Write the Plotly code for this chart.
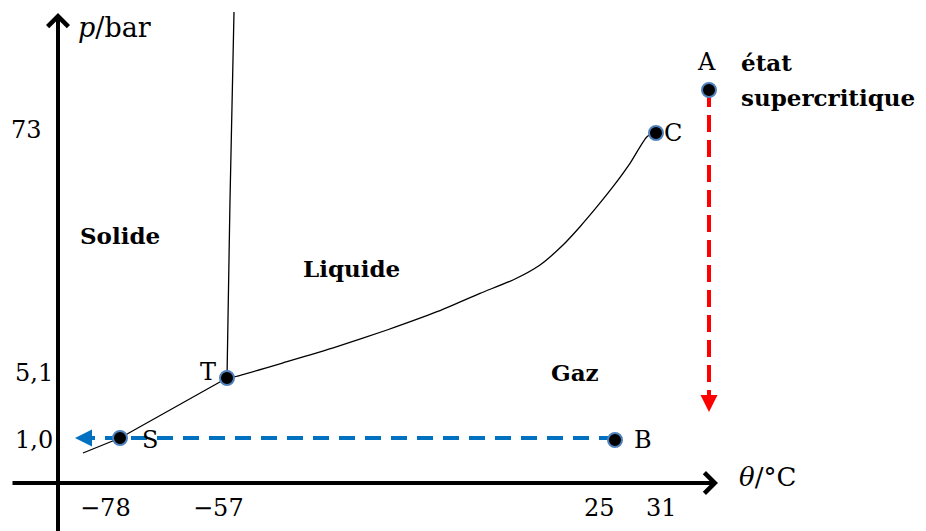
import plotly.graph_objects as go

# Schematic coordinates (screen-like units, y grows downward)
W, H = 926, 531
OFF = 8  # page margin of the html body

# Phase boundary curves (schematic)
sub_x = [83, 120, 227]
sub_y = [453, 438, 378]
fus_x = [227, 230, 234]
fus_y = [378, 200, 12]
vap_x = [227, 235, 287, 337, 387, 437, 480, 513, 540, 563, 580, 597, 613, 630, 647, 656]
vap_y = [378, 376.7, 361.7, 346.7, 330, 311.7, 293.3, 280, 265, 245, 226.7, 206.7, 186.7, 163.3, 136.7, 132.7]

# Labelled points
pt_names = ["S", "T", "C", "B", "A"]
pt_x = [120, 227, 656, 615, 709]
pt_y = [438, 378, 133, 440, 90]
lab_x = [150, 208, 673, 643, 706]
lab_y = [440, 372, 133, 440, 62]

# Transformations
blue_x = [615, 90]
blue_y = [438, 438]
blue_tip = (75, 438)
red_x = [709, 709]
red_y = [90, 398]
red_tip = (709, 412)

# Axes
x_axis_y = 483
y_axis_x = 58
x_axis_span = (11, 718)
y_axis_span = (540, 13)

# Tick labels
xtick_labels = ["−78", "−57", "25", "31"]
xtick_pos = [105, 218, 599, 661]
ytick_labels = ["73", "5,1", "1,0"]
ytick_x = [26, 34, 34]
ytick_pos = [130, 373, 440]

# Region labels
regions = ["Solide", "Liquide", "Gaz"]
reg_x = [120, 351, 575]
reg_y = [235, 268, 372]

FONT = "DejaVu Serif"
BLUE = "#0070C0"
RED = "#FF0000"

fig = go.Figure()
for xs, ys in [(sub_x, sub_y), (fus_x, fus_y)]:
    fig.add_trace(go.Scatter(x=xs, y=ys, mode="lines",
                             line=dict(color="black", width=1.3)))
fig.add_trace(go.Scatter(x=vap_x, y=vap_y, mode="lines",
                         line=dict(color="black", width=1.3, shape="spline", smoothing=0.6)))

fig.add_trace(go.Scatter(x=blue_x, y=blue_y, mode="lines",
                         line=dict(color=BLUE, width=4, dash="16px,10px")))
fig.add_trace(go.Scatter(x=red_x, y=red_y, mode="lines",
                         line=dict(color=RED, width=4, dash="17px,8px")))

fig.add_trace(go.Scatter(x=pt_x, y=pt_y, mode="markers",
                         marker=dict(size=14, color="black",
                                     line=dict(color="#4F81BD", width=2))))

ann = []
# axes arrows
ann.append(dict(x=x_axis_span[1], y=x_axis_y, ax=x_axis_span[0], ay=x_axis_y,
                xref="x", yref="y", axref="x", ayref="y", text="",
                showarrow=True, arrowhead=4, arrowwidth=4, arrowsize=1, arrowcolor="black"))
ann.append(dict(x=y_axis_x, y=y_axis_span[1], ax=y_axis_x, ay=y_axis_span[0],
                xref="x", yref="y", axref="x", ayref="y", text="",
                showarrow=True, arrowhead=4, arrowwidth=4, arrowsize=1, arrowcolor="black"))
# transformation arrowheads
ann.append(dict(x=blue_tip[0], y=blue_tip[1], ax=blue_tip[0] + 17, ay=blue_tip[1],
                xref="x", yref="y", axref="x", ayref="y", text="",
                showarrow=True, arrowhead=2, arrowwidth=4, arrowsize=0.85, arrowcolor=BLUE))
ann.append(dict(x=red_tip[0], y=red_tip[1], ax=red_tip[0], ay=red_tip[1] - 17,
                xref="x", yref="y", axref="x", ayref="y", text="",
                showarrow=True, arrowhead=2, arrowwidth=4, arrowsize=0.85, arrowcolor=RED))

FS = 24
for t, x in zip(xtick_labels, xtick_pos):
    ann.append(dict(x=x, y=508, text=t, showarrow=False, xref="x", yref="y",
                    font=dict(family=FONT, size=FS, color="black")))
for t, x, y in zip(ytick_labels, ytick_x, ytick_pos):
    ann.append(dict(x=x, y=y, text=t, showarrow=False, xref="x", yref="y",
                    font=dict(family=FONT, size=FS, color="black")))
for t, x, y in zip(pt_names, lab_x, lab_y):
    ann.append(dict(x=x, y=y, text=t, showarrow=False, xref="x", yref="y",
                    font=dict(family=FONT, size=FS, color="black")))
for t, x, y in zip(regions, reg_x, reg_y):
    ann.append(dict(x=x, y=y, text="<b>" + t + "</b>", showarrow=False, xref="x", yref="y",
                    font=dict(family=FONT, size=23, color="black")))
ann.append(dict(x=739, y=62, text="<b>état</b>", showarrow=False, xref="x", yref="y",
                xanchor="left", font=dict(family=FONT, size=23, color="black")))
ann.append(dict(x=739, y=97, text="<b>supercritique</b>", showarrow=False, xref="x", yref="y",
                xanchor="left", font=dict(family=FONT, size=23, color="black")))
ann.append(dict(x=76, y=27, text="<i>p</i>/bar", showarrow=False, xref="x", yref="y",
                xanchor="left", font=dict(family=FONT, size=27, color="black")))
ann.append(dict(x=737, y=477, text="<i>θ</i>/°C", showarrow=False, xref="x", yref="y",
                xanchor="left", font=dict(family=FONT, size=26, color="black")))

fig.update_layout(
    width=W, height=H, margin=dict(l=0, r=0, t=0, b=0),
    paper_bgcolor="white", plot_bgcolor="white", showlegend=False,
    xaxis=dict(range=[OFF, W + OFF], visible=False, fixedrange=True),
    yaxis=dict(range=[H + OFF, OFF], visible=False, fixedrange=True),
    annotations=ann,
)
fig.write_html("out.html")
